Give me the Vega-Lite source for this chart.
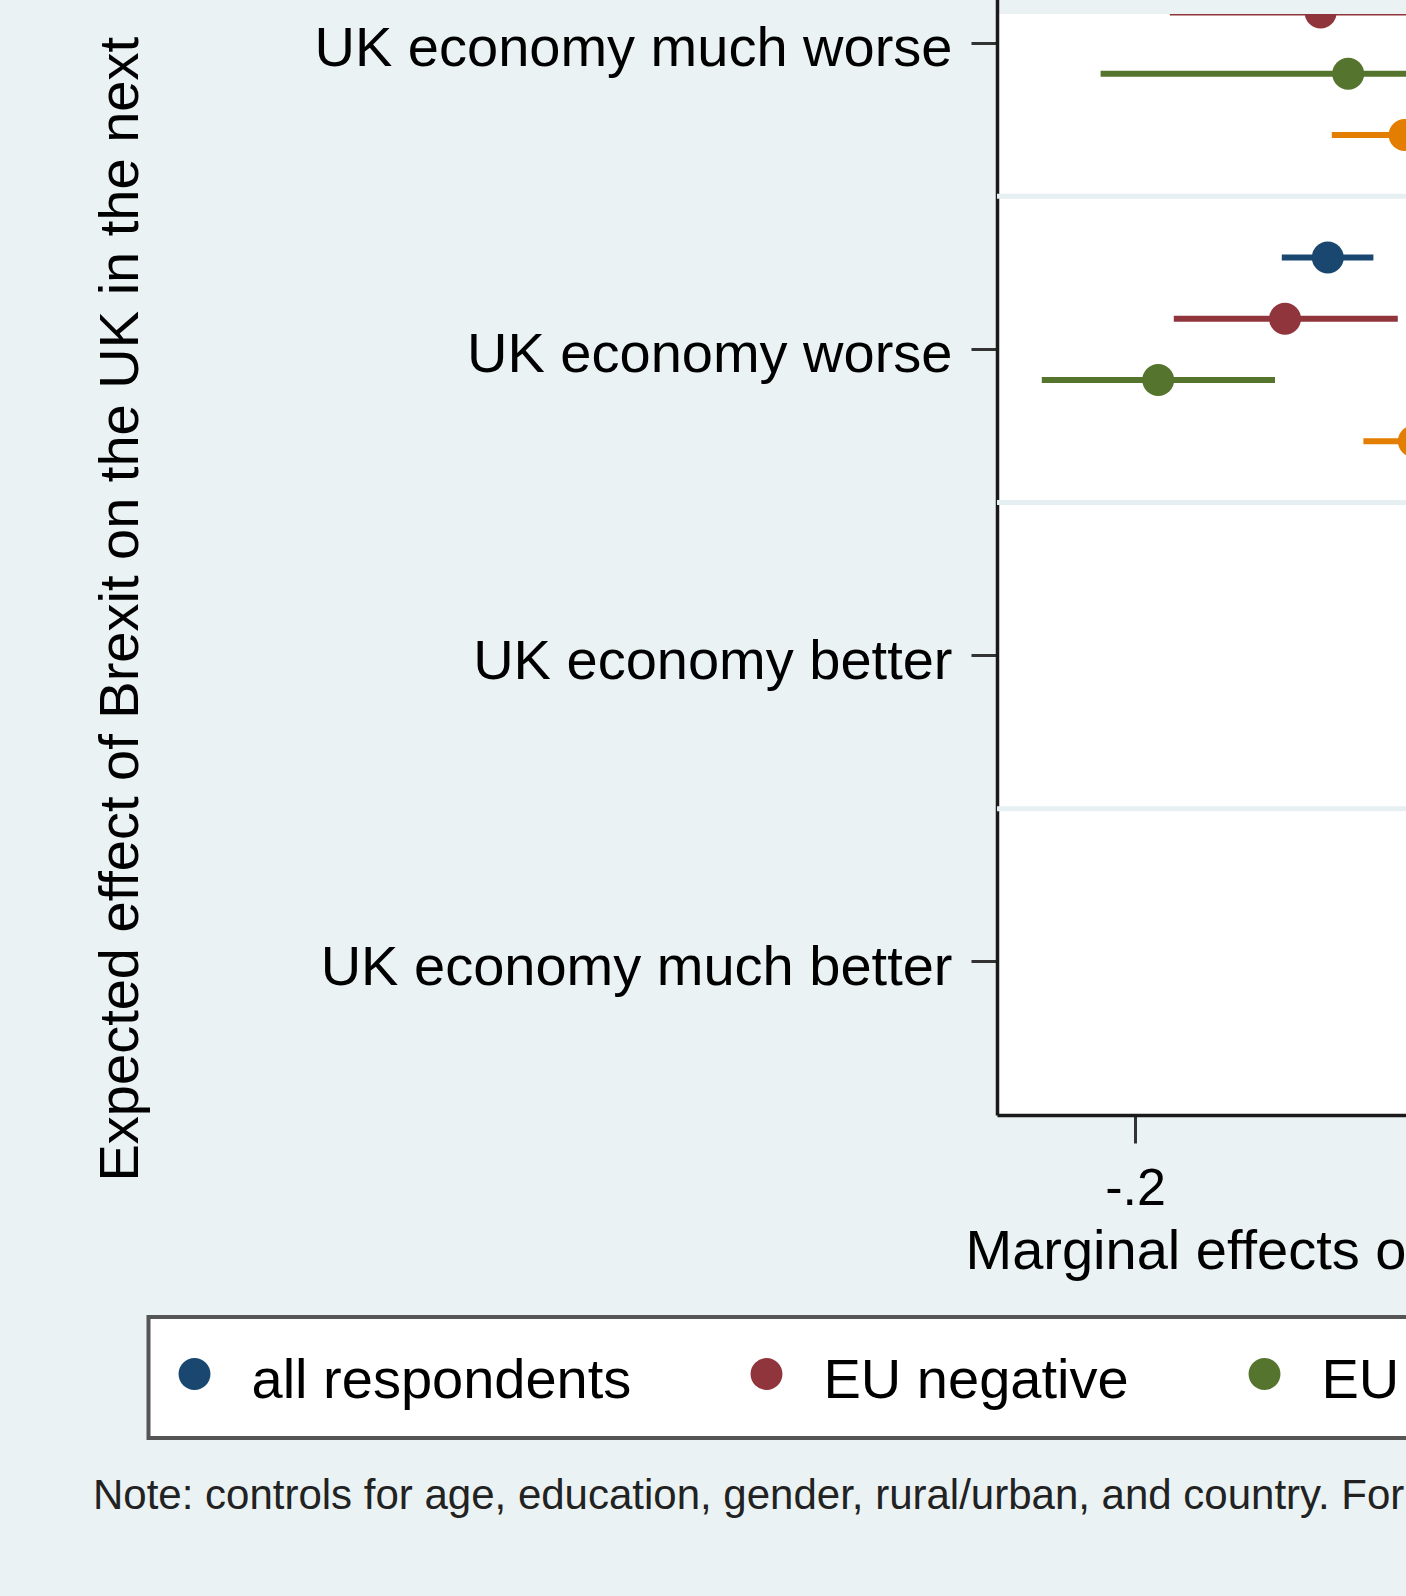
{
  "$schema": "https://vega.github.io/schema/vega-lite/v6.json",
  "autosize": {"type": "none"},
  "padding": {"left": 997, "top": 14, "right": 0, "bottom": 481},
  "width": 409,
  "height": 1101,
  "background": "#EAF2F3",
  "config": {
    "font": "Liberation Sans",
    "view": {"fill": "white", "stroke": null},
    "axis": {"labelColor": "#000", "titleColor": "#000", "titleFontWeight": "normal", "domainColor": "#1a1a1a", "domainWidth": 3.5, "tickColor": "#333", "tickWidth": 3, "grid": false}
  },
  "title": {
    "text": "Note: controls for age, education, gender, rural/urban, and country. For",
    "orient": "bottom",
    "anchor": "start",
    "frame": "group",
    "fontSize": 42,
    "fontWeight": "normal",
    "color": "#222",
    "baseline": "alphabetic",
    "offset": 0,
    "dx": -904,
    "dy": 69
  },
  "data": {
    "values": [
      {"category": "UK economy much worse", "group": "all respondents", "estimate": -0.1475, "lo": -0.159, "hi": -0.136},
      {"category": "UK economy much worse", "group": "EU negative", "estimate": -0.1536, "lo": -0.1913, "hi": -0.1159},
      {"category": "UK economy much worse", "group": "EU neutral", "estimate": -0.1467, "lo": -0.2086, "hi": -0.0848},
      {"category": "UK economy much worse", "group": "EU positive", "estimate": -0.1326, "lo": -0.1508, "hi": -0.1144},
      {"category": "UK economy worse", "group": "all respondents", "estimate": -0.1518, "lo": -0.1633, "hi": -0.1404},
      {"category": "UK economy worse", "group": "EU negative", "estimate": -0.1625, "lo": -0.1903, "hi": -0.1343},
      {"category": "UK economy worse", "group": "EU neutral", "estimate": -0.1942, "lo": -0.2233, "hi": -0.165},
      {"category": "UK economy worse", "group": "EU positive", "estimate": -0.1303, "lo": -0.1429, "hi": -0.1177},
      {"category": "UK economy better", "group": "all respondents", "estimate": 0.05, "lo": 0.04, "hi": 0.06},
      {"category": "UK economy better", "group": "EU negative", "estimate": 0.04, "lo": 0.01, "hi": 0.07},
      {"category": "UK economy better", "group": "EU neutral", "estimate": 0.06, "lo": 0.03, "hi": 0.09},
      {"category": "UK economy better", "group": "EU positive", "estimate": 0.03, "lo": 0.015, "hi": 0.045},
      {"category": "UK economy much better", "group": "all respondents", "estimate": 0.03, "lo": 0.02, "hi": 0.04},
      {"category": "UK economy much better", "group": "EU negative", "estimate": 0.02, "lo": -0.01, "hi": 0.05},
      {"category": "UK economy much better", "group": "EU neutral", "estimate": 0.04, "lo": 0.0, "hi": 0.08},
      {"category": "UK economy much better", "group": "EU positive", "estimate": 0.02, "lo": 0.005, "hi": 0.035}
    ]
  },
  "encoding": {
    "y": {
      "field": "category",
      "type": "nominal",
      "sort": ["UK economy much worse", "UK economy worse", "UK economy better", "UK economy much better"],
      "scale": {"domain": ["UK economy much worse", "UK economy worse", "UK economy better", "UK economy much better"], "paddingInner": 0, "paddingOuter": 0, "range": [-124, 1101]},
      "axis": {
        "title": "Expected effect of Brexit on the UK in the next",
        "titleFontSize": 56,
        "titleAngle": 270,
        "titleAlign": "left",
        "titleBaseline": "alphabetic",
        "titleX": -860,
        "titleY": 1167,
        "labelFontSize": 56,
        "labelLimit": 1000,
        "labelPadding": 19,
        "labelOffset": 6,
        "labelBaseline": "middle",
        "tickSize": 26
      }
    }
  },
  "layer": [
    {
      "transform": [{"aggregate": [], "groupby": ["category"]}],
      "mark": {"type": "rule", "clip": true, "color": "#E6EFF1", "strokeWidth": 5},
      "encoding": {
        "y": {"field": "category", "type": "nominal", "bandPosition": 0}
      }
    },
    {
      "mark": {"type": "rule", "clip": true, "strokeWidth": 6},
      "encoding": {
        "x": {"field": "lo", "type": "quantitative"},
        "x2": {"field": "hi"},
        "yOffset": {"field": "group", "type": "nominal", "scale": {"type": "point", "padding": 1, "domain": ["all respondents", "EU negative", "EU neutral", "EU positive"]}},
        "color": {"field": "group", "type": "nominal"}
      }
    },
    {
      "mark": {"type": "point", "shape": "circle", "filled": true, "opacity": 1, "clip": true, "size": 1018},
      "encoding": {
        "x": {
          "field": "estimate",
          "type": "quantitative",
          "scale": {"domain": [-0.2345, -0.13225], "nice": false, "zero": false},
          "axis": {
            "title": "Marginal effects on probability",
            "values": [-0.2],
            "labelExpr": "replace(replace(format(datum.value, '.1f'), '\u2212', '-'), '0.', '.')",
            "labelFontSize": 52,
            "labelPadding": 20,
            "tickSize": 28,
            "titleFontSize": 56,
            "titleAlign": "left",
            "titleBaseline": "alphabetic",
            "titleX": -32,
            "titleY": 153
          }
        },
        "yOffset": {"field": "group", "type": "nominal", "scale": {"type": "point", "padding": 1, "domain": ["all respondents", "EU negative", "EU neutral", "EU positive"]}},
        "color": {
          "field": "group",
          "type": "nominal",
          "scale": {"domain": ["all respondents", "EU negative", "EU neutral", "EU positive"], "range": ["#1A476F", "#90353B", "#55752F", "#E37E00"]},
          "legend": {
            "title": null,
            "orient": "none",
            "legendX": -848.5,
            "legendY": 1303,
            "direction": "horizontal",
            "columns": 4,
            "columnPadding": 118,
            "padding": 29,
            "fillColor": "white",
            "strokeColor": "#555",
            "symbolType": "circle",
            "symbolSize": 1018,
            "symbolStrokeWidth": 0,
            "symbolOpacity": 1,
            "symbolOffset": -11,
            "labelFontSize": 56,
            "labelColor": "#000",
            "labelLimit": 1000,
            "labelOffset": 29,
            "encode": {
              "legend": {"update": {"strokeWidth": {"value": 4}}},
              "labels": {"update": {"dy": {"value": 7}}}
            }
          }
        }
      }
    }
  ]
}
